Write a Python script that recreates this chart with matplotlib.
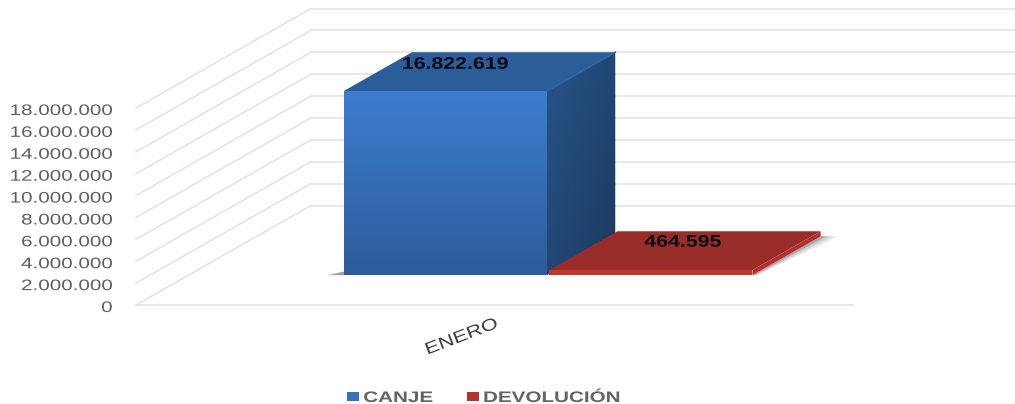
import numpy as np
import matplotlib
matplotlib.use('Agg')
import matplotlib.pyplot as plt
from matplotlib.colors import LinearSegmentedColormap
from matplotlib.patches import Patch, Polygon
from matplotlib.patheffects import AbstractPathEffect
from matplotlib.transforms import Affine2D

categories = ['ENERO']
series_names = ['CANJE', 'DEVOLUCIÓN']
canje = [16822619]
devolucion = [464595]
y_ticks = [0, 2000000, 4000000, 6000000, 8000000, 10000000, 12000000, 14000000, 16000000, 18000000]

plt.rcParams['font.family'] = ['Liberation Sans', 'DejaVu Sans']

W, H = 1015, 404
Y_MAX = y_ticks[-1]
# oblique projection of the depth axis, in axes units
DX = 175 / 717
DY = 99.5 / 197 * Y_MAX
BAR_W = 0.2835
D0, D1 = 0.30, 0.69

GRID = '#e4e4e4'
TICK = '#5f5f5f'


class Stretch(AbstractPathEffect):
    # the reference was resized wider, so the glyphs are wider than the font
    def __init__(self, sx, anchor=0.0, dy=0):
        super().__init__()
        self.sx = sx
        self.anchor = anchor
        self.dy = dy

    def draw_path(self, renderer, gc, tpath, affine, rgbFace=None):
        ext = tpath.get_extents()
        a = ext.x0 + self.anchor * ext.width
        t = Affine2D().translate(-a, 0).scale(self.sx, 1).translate(a, 0)
        renderer.draw_path(gc, tpath, t + affine + Affine2D().translate(0, self.dy), rgbFace)


def proj(x, v, d):
    return x + d * DX, v + d * DY


def box_faces(x0, x1, v):
    front = [proj(x0, 0, D0), proj(x1, 0, D0), proj(x1, v, D0), proj(x0, v, D0)]
    top = [proj(x0, v, D0), proj(x1, v, D0), proj(x1, v, D1), proj(x0, v, D1)]
    side = [proj(x1, 0, D0), proj(x1, 0, D1), proj(x1, v, D1), proj(x1, v, D0)]
    return front, top, side


def gradient_face(ax, fig, pts, grad, colors):
    cmap = LinearSegmentedColormap.from_list('face', colors)
    xs, ys = zip(*pts)
    im = ax.imshow(grad, cmap=cmap, vmin=0, vmax=1, aspect='auto', origin='upper',
                   extent=(min(xs), max(xs), min(ys), max(ys)), zorder=3)
    clip = Polygon(pts, closed=True, transform=ax.transData)
    im.set_clip_path(clip)
    im.set_clip_box(fig.bbox)


fig = plt.figure(figsize=(W / 100, H / 100), dpi=100)
ax = fig.add_axes([136 / W, (H - 305) / H, 717 / W, 197 / H])

# walls and floor
for v in y_ticks:
    ax.plot([0, DX], [v, v + DY], color=GRID, lw=1.2, clip_on=False, zorder=1)
    ax.plot([DX, 1 + DX], [v + DY, v + DY], color=GRID, lw=1.2, clip_on=False, zorder=1)
ax.plot([0, 1], [0, 0], color=GRID, lw=1.2, clip_on=False, zorder=1)

vertical = np.linspace(0, 1, 64).reshape(-1, 1)
diagonal = np.add.outer(np.linspace(0, 1, 64), np.linspace(0, 1, 64)) / 2

# CANJE
x0 = 0.5 - BAR_W
x1 = 0.5
front, top, side = box_faces(x0, x1, canje[0])
sx, sy = proj(x0 - 0.022, 0, D0)
ax.add_patch(Polygon([(sx, sy), proj(x0, 0, D0), proj(x0, 0, D0 + 0.06)], closed=True,
                     fc='#a0a0a0', ec='none', clip_on=False, zorder=2))
ax.add_patch(Polygon(top, closed=True, fc='#2b5d99', ec='none', clip_on=False, zorder=3))
gradient_face(ax, fig, side, diagonal, ['#285488', '#1a3a60'])
gradient_face(ax, fig, front, vertical, ['#3c7dd0', '#2c5c99'])
ax.plot([top[1][0], top[2][0]], [top[1][1], top[2][1]], color='#2c66ad', lw=1.2, clip_on=False, zorder=4)

# DEVOLUCIÓN
x0 = 0.5 + 0.003
x1 = x0 + BAR_W
front, top, side = box_faces(x0, x1, devolucion[0])
for grow, col in [(0.024, '#e6e6e6'), (0.016, '#cfcfcf'), (0.008, '#a8a8a8')]:
    shadow = [proj(x1, 0, D0), proj(x1, 0, D1), proj(x1 + grow, 0, D1), proj(x1 + grow * 0.3, 0, D0)]
    ax.add_patch(Polygon(shadow, closed=True, fc=col, ec='none', clip_on=False, zorder=2))
ax.add_patch(Polygon(top, closed=True, fc='#982c28', ec='none', clip_on=False, zorder=3))
ax.add_patch(Polygon(side, closed=True, fc='#b3302c', ec='none', clip_on=False, zorder=3))
ax.add_patch(Polygon(front, closed=True, fc='#c03732', ec='none', clip_on=False, zorder=3))

ax.set_xlim(0, 1)
ax.set_ylim(0, Y_MAX)
for s in ax.spines.values():
    s.set_visible(False)
ax.patch.set_visible(False)

# value labels sit on the top faces
ax.text(0.5 - BAR_W / 2 + (D0 + D1) / 2 * DX - 0.034, canje[0] + DY * (D0 + 0.69 * (D1 - D0)), '16.822.619',
        ha='center', va='center', fontsize=12, fontweight='bold', color='#0a0a14', zorder=6,
        path_effects=[Stretch(1.28, 0.5)])
ax.text(0.5 + BAR_W / 2 + (D0 + D1) / 2 * DX, devolucion[0] + DY * (D0 + 0.72 * (D1 - D0)), '464.595',
        ha='center', va='center', fontsize=12, fontweight='bold', color='#0a0a14', zorder=6,
        path_effects=[Stretch(1.28, 0.5)])

ax.set_yticks(y_ticks, [f'{v:,}'.replace(',', '.') for v in y_ticks])
ax.tick_params(axis='y', length=0, pad=17, labelsize=11, labelcolor=TICK)
for t in ax.get_yticklabels():
    t.set_path_effects([Stretch(1.35, 1.0, -1.5)])

ax.set_xticks([0.5], categories)
ax.tick_params(axis='x', length=0, pad=8, labelsize=12, labelcolor='#404040')
for t in ax.get_xticklabels():
    t.set_rotation(21)
    t.set_ha('right')
    t.set_rotation_mode('anchor')
    t.set_path_effects([Stretch(1.3, 1.0)])

handles = [Patch(fc='#3a72b8', ec='none'), Patch(fc='#b5322e', ec='none')]
leg = fig.legend(handles, series_names, loc='center', bbox_to_anchor=(466 / W, 1 - 398 / H), ncol=2,
                 frameon=False, handlelength=0.8, handleheight=0.55, handletextpad=0.27,
                 columnspacing=3.4, borderpad=0, prop={'size': 11, 'weight': 'bold'})
for t in leg.get_texts():
    t.set_color('#5f6468')
    t.set_path_effects([Stretch(1.35, 0.0)])

fig.savefig('out.png', dpi=100)
